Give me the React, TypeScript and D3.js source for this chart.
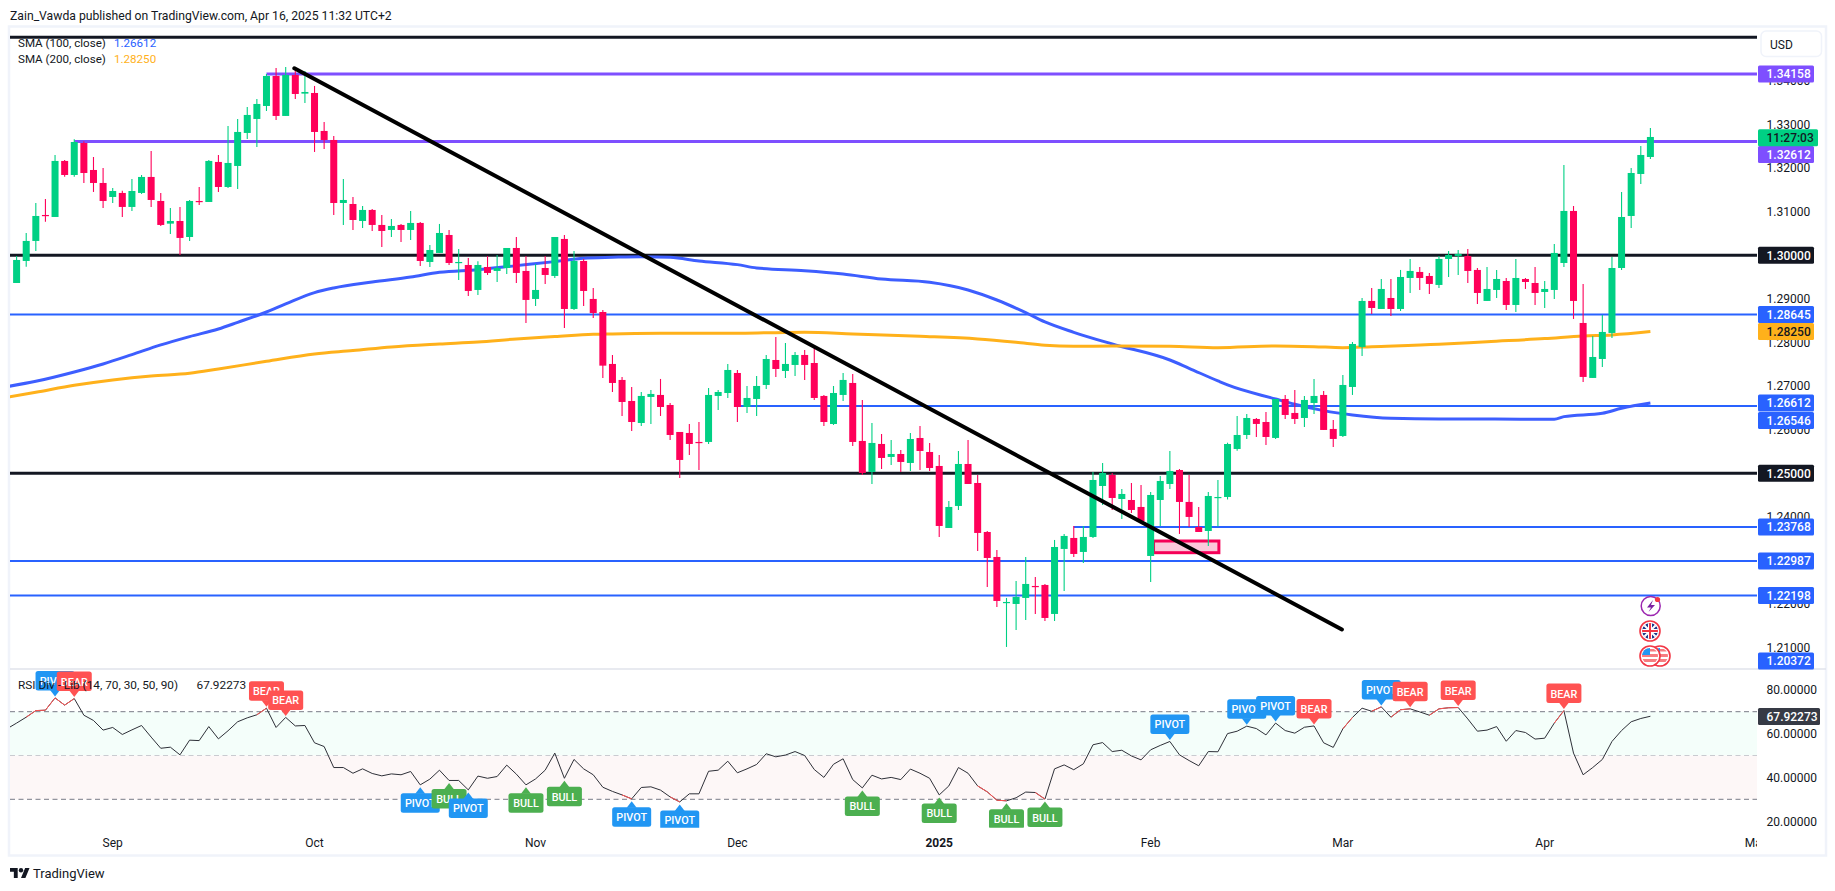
import React from "react";
import * as d3 from "d3";

const opens = [1.29365,1.2987,1.30329,1.30925,1.30879,1.32164,1.31842,1.32576,1.31957,1.31659,
1.31338,1.3143,1.31109,1.3143,1.31797,1.31246,1.30726,1.30787,1.3042,1.31246,
1.31223,1.32141,1.31567,1.32049,1.32806,1.33127,1.33425,1.34113,1.33196,1.34136,
1.33708,1.33723,1.32852,1.32645,1.312,1.31177,1.30787,1.3104,1.30696,1.30581,
1.30696,1.30581,1.30742,1.29847,1.30054,1.30466,1.29824,1.29778,1.29205,1.29732,
1.29641,1.29709,1.30168,1.29641,1.28999,1.29709,1.29526,1.30375,1.28769,1.2987,
1.28999,1.287,1.27508,1.27141,1.26659,1.26154,1.26751,1.26797,1.26567,1.25948,
1.25925,1.25719,1.25719,1.26774,1.26842,1.27301,1.26521,1.26705,1.27026,1.27599,
1.27347,1.27485,1.27714,1.2753,1.26774,1.26131,1.26797,1.27072,1.25742,1.25031,
1.25673,1.25375,1.25443,1.25237,1.2581,1.25489,1.25168,1.23746,1.24251,1.25214,
1.24778,1.23654,1.23081,1.22034,1.22003,1.22141,1.22416,1.22439,1.21774,1.23265,
1.23517,1.23196,1.2354,1.24709,1.24962,1.24411,1.24388,1.24228,1.23104,1.24388,
1.24755,1.25076,1.24343,1.23769,1.23677,1.24434,1.24457,1.25558,1.25879,1.26246,
1.26177,1.25811,1.26705,1.26384,1.26269,1.26613,1.26797,1.26017,1.25856,1.2698,
1.27898,1.28953,1.28769,1.29021,1.28769,1.2948,1.29618,1.29526,1.2932,1.29916,
1.29985,1.29985,1.29664,1.28953,1.29205,1.29411,1.28861,1.29457,1.29365,1.29159,
1.29205,1.29824,1.31017,1.28448,1.27187,1.27622,1.28219,1.29709,1.30902,1.31865,1.32255];

const highs = [1.29985,1.30512,1.312,1.31292,1.32301,1.32186,1.3266,1.32615,1.32255,1.32003,
1.31544,1.31483,1.31751,1.31842,1.32393,1.3143,1.31086,1.31109,1.31269,1.31567,
1.32186,1.32301,1.32966,1.33127,1.33402,1.33586,1.34159,1.34297,1.34319,1.34297,
1.34228,1.33884,1.33058,1.32737,1.31751,1.31338,1.31131,1.31063,1.30925,1.30833,
1.30719,1.31017,1.30765,1.30237,1.30719,1.30581,1.30145,1.29939,1.29862,1.29985,
1.30008,1.30168,1.3042,1.29985,1.29801,1.29985,1.3042,1.30466,1.30099,1.29916,
1.29251,1.28746,1.27714,1.27209,1.2698,1.26865,1.26911,1.27164,1.26613,1.25948,
1.26131,1.26177,1.26957,1.26911,1.27508,1.2737,1.27003,1.27232,1.27714,1.28127,
1.27989,1.27783,1.27829,1.27875,1.26797,1.27003,1.27301,1.27278,1.26682,1.26154,
1.25902,1.25765,1.25535,1.25925,1.26086,1.25696,1.2542,1.24365,1.25512,1.25765,
1.24962,1.23677,1.23242,1.22141,1.22531,1.23081,1.22622,1.22462,1.23471,1.23609,
1.23792,1.23792,1.25031,1.25237,1.25008,1.24641,1.24778,1.24732,1.24572,1.24939,
1.25512,1.25099,1.24962,1.24228,1.24572,1.24847,1.25702,1.26315,1.26361,1.26269,
1.26407,1.26705,1.26797,1.26911,1.26774,1.27164,1.26888,1.26223,1.27255,1.28012,
1.29021,1.29251,1.29457,1.29457,1.29664,1.29916,1.29732,1.29595,1.29985,1.30099,
1.30122,1.30145,1.29709,1.29732,1.29664,1.2948,1.29916,1.2948,1.29732,1.29411,
1.3026,1.32072,1.31131,1.29343,1.2815,1.28632,1.29962,1.31453,1.32003,1.32508,1.3292];

const lows = [1.29365,1.2974,1.30099,1.30772,1.30879,1.31804,1.31804,1.31659,1.31453,1.31086,
1.312,1.30879,1.31017,1.31407,1.31109,1.30673,1.30489,1.30008,1.30329,1.31154,
1.31223,1.31453,1.31544,1.31521,1.32668,1.32485,1.3331,1.33104,1.33196,1.33586,
1.33494,1.3237,1.32439,1.30925,1.30696,1.30581,1.30627,1.30558,1.30191,1.3042,
1.30306,1.30352,1.29755,1.29732,1.30054,1.29778,1.29434,1.29067,1.2909,1.29549,
1.29388,1.29572,1.29365,1.28448,1.28838,1.29343,1.2948,1.28333,1.28746,1.28838,
1.28563,1.27186,1.26865,1.26315,1.25971,1.26086,1.26131,1.26315,1.25765,1.24893,
1.2542,1.25076,1.25673,1.26453,1.26728,1.26177,1.26384,1.26315,1.26934,1.27209,
1.27186,1.27232,1.27141,1.26682,1.26086,1.26109,1.26659,1.25627,1.24962,1.24755,
1.25099,1.25191,1.25031,1.25054,1.25076,1.25054,1.2354,1.23746,1.24159,1.24755,
1.23219,1.22393,1.21934,1.21017,1.21407,1.21636,1.21774,1.21613,1.21613,1.22301,
1.23081,1.22944,1.23517,1.24274,1.24159,1.23953,1.2409,1.23884,1.22508,1.23792,
1.24641,1.23609,1.23769,1.23654,1.23333,1.23777,1.244,1.2552,1.25788,1.25833,
1.2565,1.25788,1.26246,1.26132,1.26063,1.26361,1.25994,1.25604,1.25833,1.26797,
1.27691,1.28654,1.28769,1.28609,1.28723,1.29136,1.29205,1.29113,1.29251,1.29503,
1.29549,1.29365,1.28884,1.28953,1.29021,1.28746,1.287,1.29228,1.28861,1.28792,
1.28999,1.29732,1.2854,1.27095,1.27187,1.27439,1.28104,1.29664,1.30627,1.31636,1.32209];

const closes = [1.29893,1.30329,1.30902,1.30902,1.32164,1.31842,1.32599,1.31888,1.31659,1.31246,
1.31475,1.31109,1.31475,1.31797,1.31269,1.30696,1.30787,1.30398,1.31246,1.31223,
1.32164,1.31567,1.32118,1.32829,1.33219,1.33471,1.34113,1.33196,1.34136,1.337,
1.33746,1.32829,1.32645,1.312,1.31269,1.3081,1.3104,1.30696,1.30558,1.30673,
1.30581,1.30742,1.2987,1.30122,1.30512,1.29824,1.29847,1.29182,1.29778,1.29595,
1.29709,1.30168,1.29595,1.28976,1.29205,1.29549,1.3042,1.28769,1.2987,1.29182,
1.28677,1.27469,1.27072,1.26636,1.26177,1.26774,1.2682,1.26521,1.25879,1.25306,
1.25673,1.25696,1.26797,1.26865,1.2737,1.26521,1.26728,1.27003,1.27622,1.27393,
1.27508,1.27714,1.27485,1.26728,1.26177,1.26842,1.27141,1.25719,1.25008,1.25696,
1.25352,1.25443,1.2526,1.25787,1.25512,1.25122,1.23792,1.24228,1.25214,1.24755,
1.23632,1.23058,1.22072,1.22049,1.22164,1.22462,1.22393,1.21682,1.2331,1.23563,
1.2315,1.2354,1.24847,1.25008,1.24434,1.24526,1.24159,1.23907,1.24503,1.24824,
1.25054,1.24343,1.23999,1.23654,1.2448,1.24457,1.25672,1.25879,1.26269,1.26132,
1.25833,1.26705,1.26338,1.26246,1.26682,1.26774,1.25994,1.25788,1.27026,1.27966,
1.28953,1.28792,1.29228,1.28769,1.29503,1.29641,1.2948,1.29343,1.29916,1.30008,
1.30031,1.29641,1.29136,1.29228,1.29457,1.28861,1.2948,1.29388,1.29136,1.29228,
1.30054,1.31017,1.28953,1.2721,1.27668,1.28242,1.29709,1.30879,1.31888,1.32301,1.32714];

const rsiBefore = 62.2;
const rsiValues = [64.8,67.5,70.5,70.7,76.3,73.0,76.0,68.4,66.0,61.6,
62.8,59.6,61.7,63.7,58.4,53.3,53.8,50.3,57.0,56.8,
63.2,57.6,61.3,65.4,67.2,68.6,71.6,62.8,67.4,63.5,
63.7,55.8,54.1,44.5,44.5,41.9,43.9,41.8,40.7,41.6,
41.2,42.7,36.6,39.2,43.3,38.6,38.6,34.3,40.6,39.6,
40.4,45.6,41.5,36.6,39.3,43.3,51.1,39.6,48.2,43.9,
41.2,35.5,33.6,32.0,30.2,35.4,35.7,34.2,31.1,28.8,
32.5,32.5,42.8,43.3,47.4,42.1,43.9,45.9,50.8,49.4,
50.2,51.8,50.0,43.6,40.0,46.0,48.5,39.0,35.2,41.0,
39.3,40.0,39.0,43.8,41.9,39.6,32.0,36.1,44.5,41.9,
36.1,33.4,29.6,29.3,30.7,33.3,33.1,30.1,43.9,45.7,
43.5,46.2,54.9,55.9,51.8,52.4,49.8,48.0,52.6,54.6,
56.4,50.3,47.7,45.3,51.8,51.7,60.0,61.1,63.4,62.3,
59.4,64.8,61.4,60.2,62.9,63.5,55.8,53.7,62.2,67.4,
71.6,70.2,72.2,67.5,70.9,71.3,69.9,68.4,71.3,71.8,
71.9,66.7,61.1,61.6,63.2,56.5,61.4,60.5,57.5,57.9,
64.8,70.5,51.1,41.2,44.5,48.2,56.4,61.4,65.4,66.9,67.92];
const rsiRedSegments = [1,2,3,4,5,25,63,68,100,101,102,106,138,141,143,144,147,148,149,160];

const sma100Index = [-1,2,6,9,12,15,18,21,23,26,28,31,33,37,41,44,48,52,56,59,62,65,68,71,75,77,82,86,90,95,99,102,105,107,110,114,120,122,125,126,131,133,136,139,143,148,153,160,161,165,167,170];
const sma100Values = [1.26988,1.2711,1.27324,1.27508,1.27722,1.27944,1.28135,1.2831,1.28463,1.287,1.28884,1.29144,1.29251,1.29388,1.29503,1.2961,1.29671,1.29763,1.29855,1.29931,1.29954,1.29969,1.29954,1.2987,1.29786,1.2971,1.29648,1.29572,1.29457,1.29381,1.29205,1.28975,1.28685,1.28471,1.28234,1.27966,1.27599,1.27408,1.27118,1.27026,1.26705,1.26583,1.26437,1.26338,1.26262,1.26246,1.26246,1.26239,1.263,1.26376,1.26491,1.26612];
const sma200Index = [-1,2,6,10,14,18,21,26,31,35,39,44,48,52,56,60,62,67,73,79,82,87,94,100,104,107,110,114,120,125,131,135,138,141,148,153,159,163,166,170];
const sma200Values = [1.26743,1.26858,1.27018,1.27141,1.27233,1.27294,1.27393,1.27569,1.27737,1.27814,1.27898,1.27966,1.28012,1.28081,1.28135,1.28188,1.28196,1.28211,1.28211,1.28226,1.28234,1.28196,1.28142,1.28081,1.28004,1.27936,1.27913,1.2792,1.27913,1.27882,1.27921,1.27905,1.27882,1.27905,1.27959,1.2802,1.28089,1.2815,1.28173,1.2825];

const trendIndex = [28.9, 137.9];
const trendPrices = [1.34289, 1.21417];
const zoneIndex = [118.3, 125.1];
const zonePrices = [1.23447, 1.23179];

const levelPrices = [1.35, 1.34158, 1.32612, 1.3, 1.28645, 1.26546, 1.25, 1.23768, 1.22987, 1.22198];
const levelStart = [-2, 26, 6, -2, -2, 75, -2, 110, -2, -2];
const levelKind = ["black", "purple", "purple", "black", "blue", "blue", "black", "blue", "blue", "blue"];

const priceTicks = [1.34, 1.33, 1.32, 1.31, 1.3, 1.29, 1.28, 1.27, 1.26, 1.25, 1.24, 1.23, 1.22, 1.21];
const rsiTicks = [80, 60, 40, 20];
const timeLabels = ["Sep", "Oct", "Nov", "Dec", "2025", "Feb", "Mar", "Apr", "May"];
const timeIndex = [10, 31, 54, 75, 96, 118, 138, 159, 181];

const tagValues = [1.34158, 1.32612, 1.3, 1.28645, 1.2825, 1.26612, 1.26546, 1.25, 1.23768, 1.22987, 1.22198, 1.20372];
const tagKinds = ["purple", "purple", "black", "blue", "orange", "blue", "blue", "black", "blue", "blue", "blue", "blue"];
const tagShift = [0, 13, 0, 0, 0, 0, 14.7, 0, 0, 0, 0, -14];

const markerIndex = [4,6,26,28,42,45,47,53,57,64,69,88,96,103,107,120,128,131,135,142,145,150,161];
const markerText = ["PIVOT","BEAR","BEAR","BEAR","PIVOT","BULL","PIVOT","BULL","BULL","PIVOT","PIVOT","BULL","BULL","BULL","BULL","PIVOT","PIVOT","PIVOT","BEAR","PIVOT","BEAR","BEAR","BEAR"];
const markerUp = [0,0,0,0,1,1,1,1,1,1,1,1,1,1,1,0,0,0,0,0,0,0,0];

const FONT = "Roboto, sans-serif";
const INK = "#131722";
const GREEN = "#00D084";
const RED = "#FF0059";
const COLORS: Record<string, string> = { black: "#131722", purple: "#7E4FFF", blue: "#2962FF", orange: "#FFB11B" };
const MARK: Record<string, string> = { PIVOT: "#2196F3", BEAR: "#FF5252", BULL: "#4CAF50" };

const L = 10, AXIS = 1757, R = 1826, TOP = 27, DIV = 669, BOT = 827.7, FRAME_B = 855.5;

const x = d3.scaleLinear().domain([0, 170]).range([16.6, 1650.4]);
const y = d3.scaleLinear().domain([1.21, 1.33]).range([647.7, 124.5]);
const ry = d3.scaleLinear().domain([30, 70]).range([799.3, 711.7]);

const smaLine = d3.line<[number, number]>().x(d => x(d[0])).y(d => y(d[1])).curve(d3.curveMonotoneX);
const seriesPath = (ix: number[], vs: number[]) => smaLine(ix.map((i, k) => [i, vs[k]] as [number, number])) as string;
const rsiPoints: [number, number][] = [[-1, rsiBefore], ...rsiValues.map((v, i) => [i, v] as [number, number])];
const rsiLine = d3.line<[number, number]>().x(d => x(d[0])).y(d => ry(d[1]));

function Tag({ yc, fill, text, color = "#fff", w = 56 }: any) {
  return (
    <g>
      <rect x={1758} y={yc - 8.5} width={w} height={17} rx={1.5} fill={fill} />
      <text x={1766.5} y={yc + 4.3} fontSize={12} fontWeight={500} fill={color}>{text}</text>
    </g>
  );
}

function Marker({ i, text, up }: any) {
  const cx = x(i);
  const w = text === "PIVOT" ? 39 : 35;
  const h = 19.5, t = 6;
  const tip = ry(rsiValues[i]) + (up ? 2.5 : -1.5);
  const top = up ? tip + t : tip - t - h;
  const tri = up
    ? `M${cx - 5},${tip + t + 0.5}L${cx},${tip}L${cx + 5},${tip + t + 0.5}Z`
    : `M${cx - 5},${tip - t - 0.5}L${cx},${tip}L${cx + 5},${tip - t - 0.5}Z`;
  return (
    <g>
      <rect x={cx - w / 2} y={top} width={w} height={h} rx={2.5} fill={MARK[text]} />
      <path d={tri} fill={MARK[text]} />
      <text x={cx} y={top + 14} textAnchor="middle" fontSize={10.8} fontWeight={500} fill="#fff">{text}</text>
    </g>
  );
}

function Flag({ cx, cy, kind }: any) {
  const id = `flag${cx}${kind}`;
  return (
    <g>
      <clipPath id={id}><circle cx={cx} cy={cy} r={8} /></clipPath>
      <circle cx={cx} cy={cy} r={10} fill="#fff" stroke="#F23645" strokeWidth={1.6} />
      <g clipPath={`url(#${id})`}>
        {kind === "uk" ? (
          <g>
            <circle cx={cx} cy={cy} r={8} fill="#1E3A8A" />
            <path d={`M${cx - 8},${cy - 8}L${cx + 8},${cy + 8}M${cx + 8},${cy - 8}L${cx - 8},${cy + 8}`} stroke="#fff" strokeWidth={2} />
            <path d={`M${cx},${cy - 9}V${cy + 9}M${cx - 9},${cy}H${cx + 9}`} stroke="#fff" strokeWidth={4} />
            <path d={`M${cx},${cy - 9}V${cy + 9}M${cx - 9},${cy}H${cx + 9}`} stroke="#F23645" strokeWidth={2} />
          </g>
        ) : (
          <g>
            <rect x={cx - 9} y={cy - 9} width={18} height={18} fill="#fff" />
            <rect x={cx - 9} y={cy - 2} width={18} height={3} fill="#F77C80" />
            <rect x={cx - 9} y={cy + 3} width={18} height={3} fill="#F77C80" />
            <rect x={cx - 9} y={cy - 7} width={18} height={2.5} fill="#F77C80" />
            <rect x={cx - 9} y={cy - 9} width={9} height={8} fill="#2196F3" />
          </g>
        )}
      </g>
    </g>
  );
}

export default function App() {
  return (
    <svg width={1835} height={891} viewBox="0 0 1835 891" fontFamily={FONT}
      style={{ position: "fixed", left: 0, top: 0, display: "block", background: "#fff" }}>
      <defs>
        <clipPath id="main"><rect x={L} y={TOP} width={AXIS - L} height={DIV - TOP} /></clipPath>
        <clipPath id="rsi"><rect x={L} y={DIV} width={AXIS - L} height={BOT - DIV} /></clipPath>
        <clipPath id="time"><rect x={L} y={BOT} width={AXIS - L} height={FRAME_B - BOT} /></clipPath>
      </defs>

      <text x={10} y={19.5} fontSize={12.2} fill={INK}>Zain_Vawda published on TradingView.com, Apr 16, 2025 11:32 UTC+2</text>

      <rect x={9} y={26.5} width={R - 9} height={FRAME_B - 26.5} fill="#fff" stroke="#F0F3FA" strokeWidth={2.5} />
      <line x1={L} x2={R} y1={DIV} y2={DIV} stroke="#E0E3EB" strokeWidth={1.5} />

      {/* legend under the levels */}
      <text x={18} y={46.5} fontSize={11.6} fill={INK}>SMA (100, close)</text>
      <text x={114} y={46.5} fontSize={11.6} fill="#2962FF">1.26612</text>
      <text x={18} y={63} fontSize={11.6} fill={INK}>SMA (200, close)</text>
      <text x={114} y={63} fontSize={11.6} fill="#FFB11B">1.28250</text>

      {/* price axis */}
      {priceTicks.map(p => (
        <text key={p} x={1766.5} y={y(p) + 4.3} fontSize={12} fill={INK}>{p.toFixed(5)}</text>
      ))}
      <rect x={1761} y={31} width={60.5} height={25.5} rx={5} fill="#fff" stroke="#F0F3FA" strokeWidth={1.5} />
      <text x={1770} y={49} fontSize={12} fill={INK}>USD</text>

      {/* main pane */}
      <g clipPath="url(#main)">
        {levelPrices.map((p, i) => (
          <line key={p} x1={x(levelStart[i])} x2={AXIS} y1={y(p)} y2={y(p)}
            stroke={COLORS[levelKind[i]]} strokeWidth={levelKind[i] === "blue" ? 2 : 3} />
        ))}
        <path d={seriesPath(sma100Index, sma100Values)} fill="none" stroke="#3D5EFF" strokeWidth={3} />
        <path d={seriesPath(sma200Index, sma200Values)} fill="none" stroke="#FFB11B" strokeWidth={3} />
        <rect x={x(zoneIndex[0])} y={y(zonePrices[0])} width={x(zoneIndex[1]) - x(zoneIndex[0])}
          height={y(zonePrices[1]) - y(zonePrices[0])} fill="#FBC8DA" stroke="#F50057" strokeWidth={3} />
        {closes.map((c, i) => {
          const col = c >= opens[i] ? GREEN : RED;
          const top = y(Math.max(opens[i], c));
          const bot = y(Math.min(opens[i], c));
          const cx = x(i);
          return (
            <g key={i}>
              <line x1={cx} x2={cx} y1={y(highs[i])} y2={y(lows[i])} stroke={col} strokeWidth={1.1} />
              <rect x={cx - 3.5} y={top} width={7} height={Math.max(1.2, bot - top)} fill={col} />
            </g>
          );
        })}
        <line x1={x(trendIndex[0])} y1={y(trendPrices[0])} x2={x(trendIndex[1])} y2={y(trendPrices[1])}
          stroke="#000" strokeWidth={4} strokeLinecap="round" />
      </g>

      {/* event icons */}
      <g>
        <circle cx={1650.7} cy={606} r={9.5} fill="#fff" stroke="#9C27B0" strokeWidth={1.5} />
        <path d="M1653,600L1647,607.5H1651L1648.5,612L1655,605H1651Z" fill="#7B1FA2" />
        <circle cx={1657.5} cy={599.5} r={2.6} fill="#F23645" />
        <Flag cx={1650} cy={631} kind="uk" />
        <Flag cx={1660} cy={656} kind="us" />
        <Flag cx={1650} cy={656} kind="us" />
      </g>

      {/* price tags */}
      {tagValues.map((v, i) => (
        <Tag key={v} yc={y(v) + tagShift[i]} fill={COLORS[tagKinds[i]]} text={v.toFixed(5)}
          color={tagKinds[i] === "orange" ? INK : "#fff"} />
      ))}
      <Tag yc={137.7} fill={GREEN} text="11:27:03" color={INK} w={60} />

      {/* RSI pane */}
      <g clipPath="url(#rsi)">
        <rect x={L} y={ry(70)} width={AXIS - L} height={ry(50) - ry(70)} fill="#F4FEFA" />
        <rect x={L} y={ry(50)} width={AXIS - L} height={ry(30) - ry(50)} fill="#FDF7F7" />
        <line x1={L} x2={AXIS} y1={ry(70)} y2={ry(70)} stroke="#787B86" strokeDasharray="5 3.5" />
        <line x1={L} x2={AXIS} y1={ry(50)} y2={ry(50)} stroke="#C9CBD0" strokeDasharray="5 3.5" />
        <line x1={L} x2={AXIS} y1={ry(30)} y2={ry(30)} stroke="#787B86" strokeDasharray="5 3.5" />
        <path d={rsiLine(rsiPoints) as string} fill="none" stroke="#2E3038" strokeWidth={1} />
        {rsiRedSegments.map(i => (
          <path key={i} d={rsiLine([[i, rsiValues[i]], [i + 1, rsiValues[i + 1]]]) as string} fill="none" stroke="#FF5252" strokeWidth={1} />
        ))}
        {markerIndex.map((i, k) => <Marker key={i} i={i} text={markerText[k]} up={markerUp[k] === 1} />)}
        <text x={18} y={689} fontSize={11.8} fill={INK}>RSI Div - Lib (14, 70, 30, 50, 90)</text>
        <text x={196.5} y={689} fontSize={11.8} fill={INK}>67.92273</text>
      </g>

      {rsiTicks.map(v => (
        <text key={v} x={1766.5} y={ry(v) + 4.3} fontSize={12} fill={INK}>{v.toFixed(5)}</text>
      ))}
      <rect x={1758} y={708} width={62} height={17} rx={1.5} fill="#363A45" />
      <text x={1766.5} y={ry(rsiValues[170]) + 4.3} fontSize={12} fontWeight={500} fill="#fff">67.92273</text>

      {/* time axis */}
      <g clipPath="url(#time)">
        {timeLabels.map((t, i) => (
          <text key={t} x={x(timeIndex[i])} y={846.5} textAnchor="middle" fontSize={12}
            fontWeight={t === "2025" ? 700 : 400} fill={INK}>{t}</text>
        ))}
      </g>

      {/* footer logo */}
      <g transform="translate(10,865.8) scale(0.55)" fill="#131722">
        <path d="M14 22H7V11H0V4h14v18zM28 22h-8l7.5-18h8L28 22z" />
        <circle cx={20} cy={8} r={4} />
      </g>
      <text x={33} y={877.5} fontSize={13} fill={INK}>TradingView</text>
    </svg>
  );
}
